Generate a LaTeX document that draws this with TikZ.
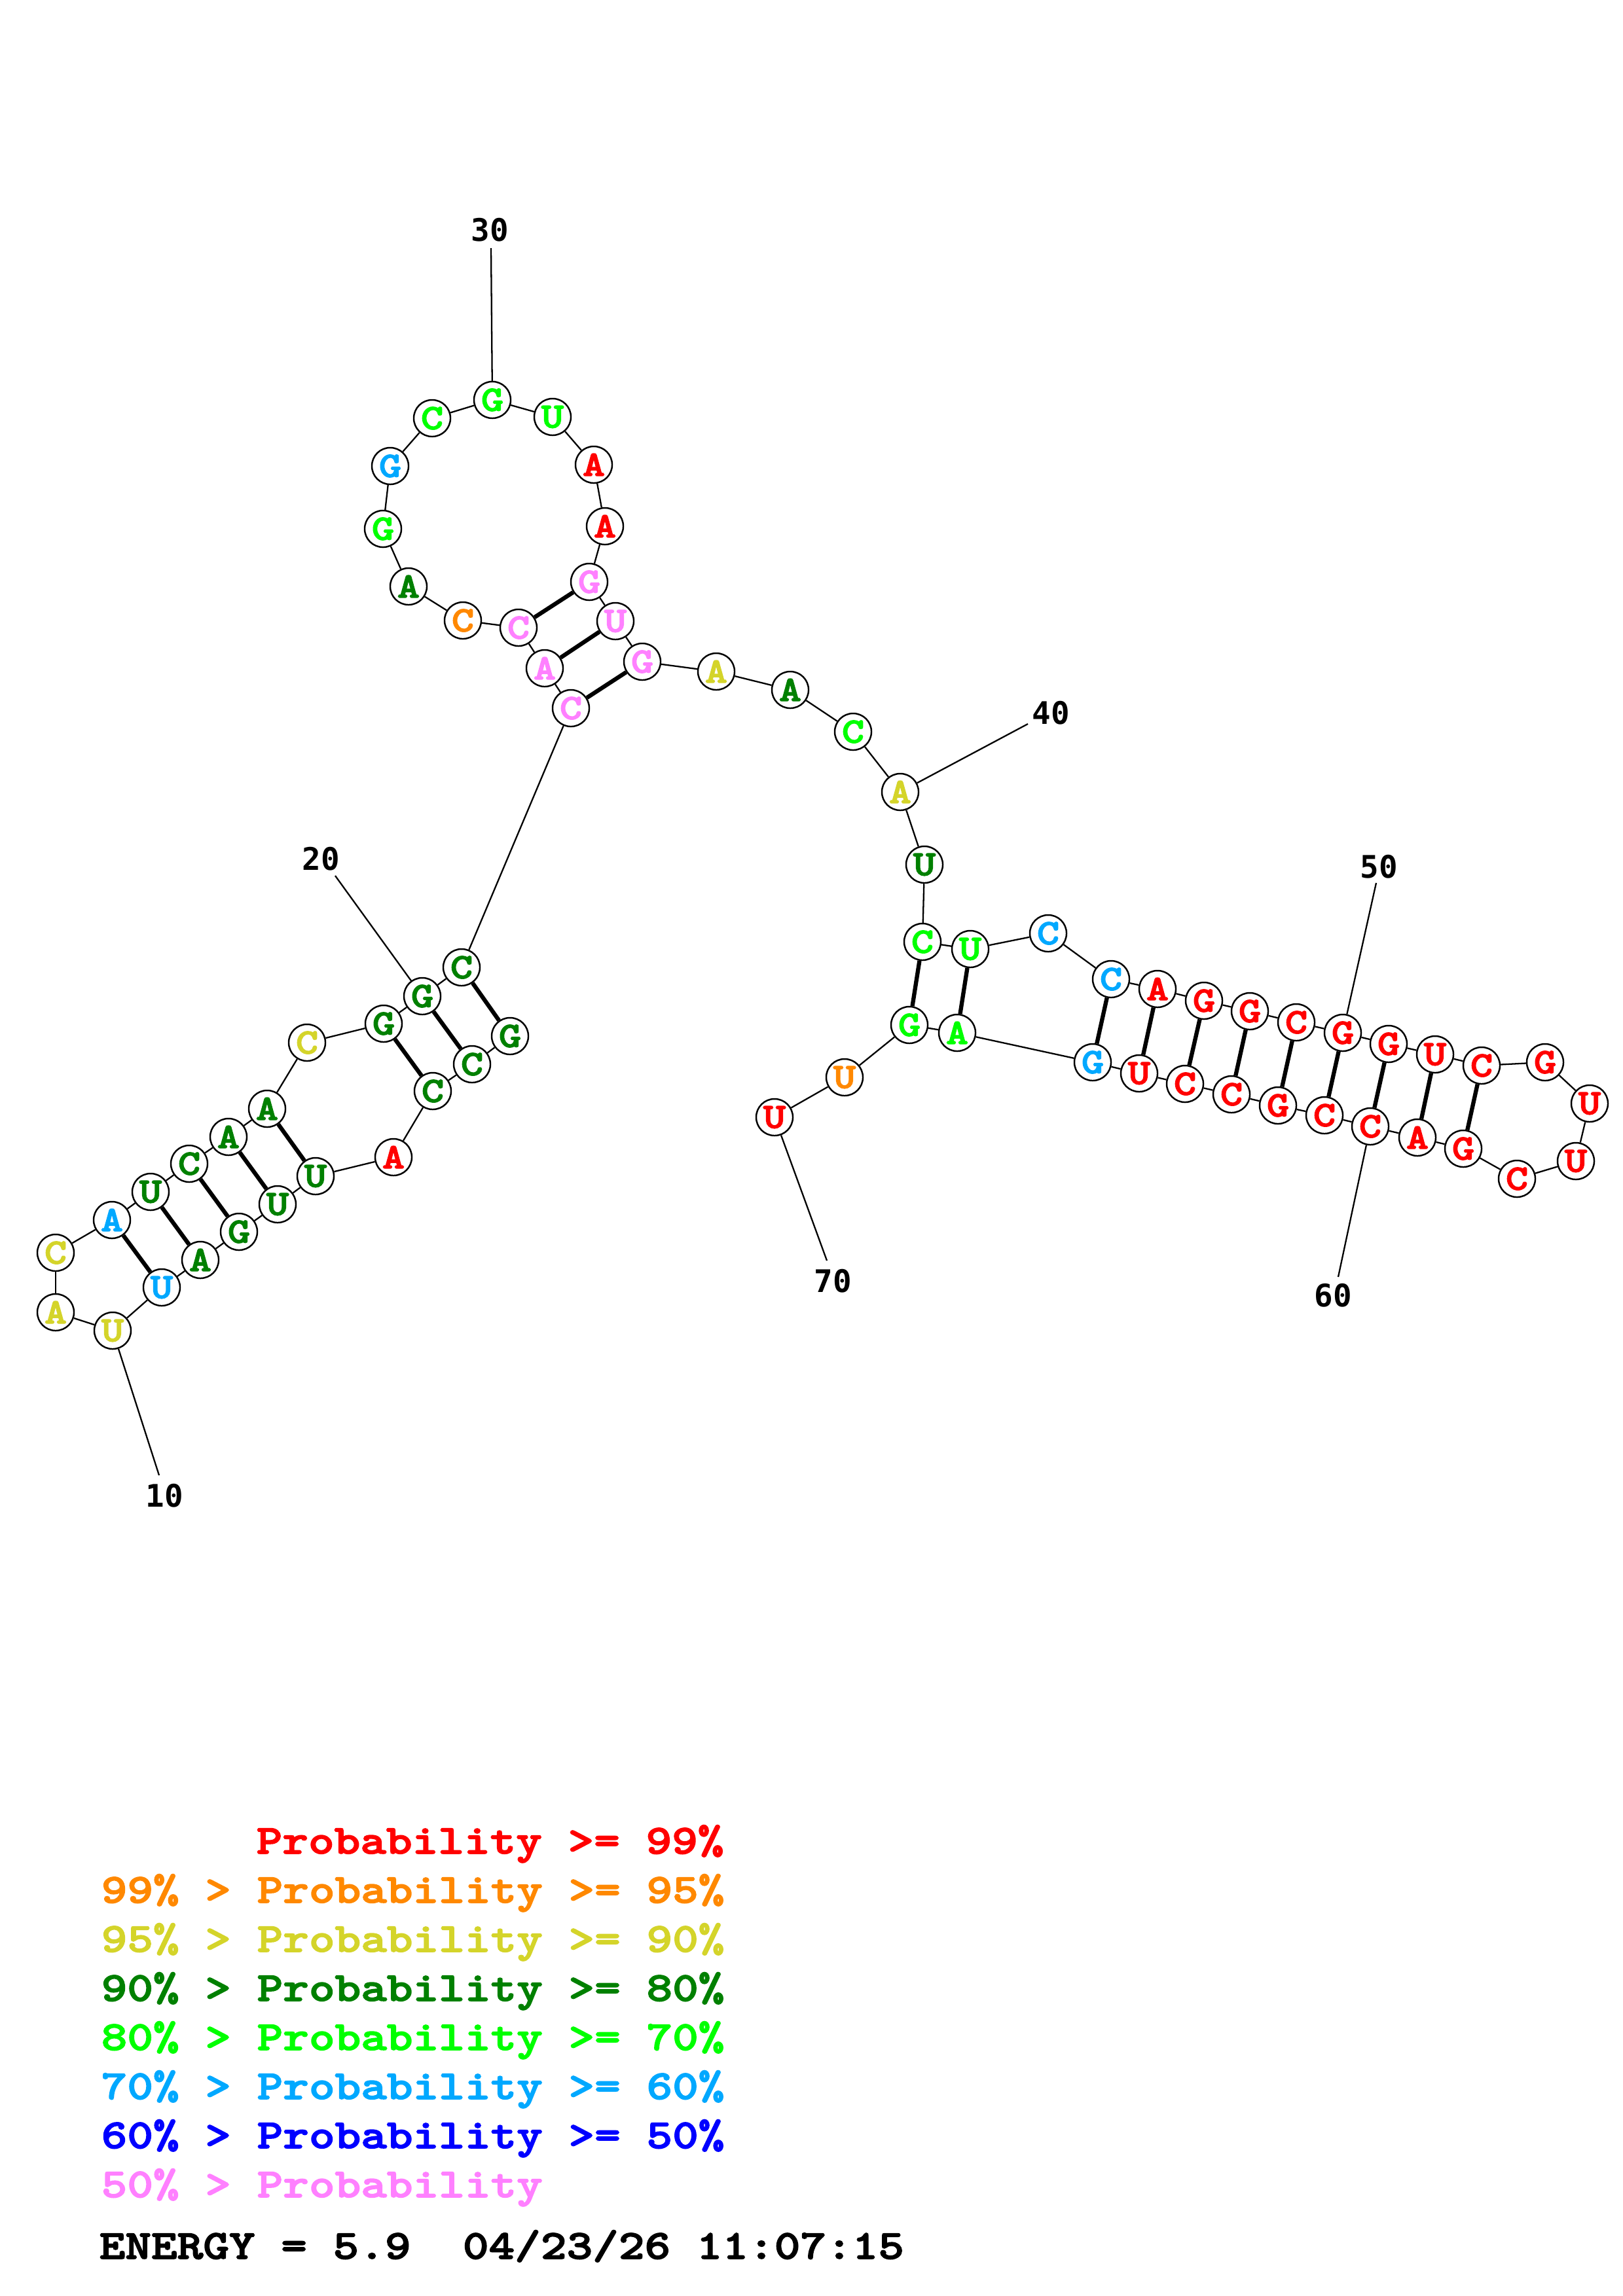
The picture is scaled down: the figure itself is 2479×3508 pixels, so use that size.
\documentclass[tikz,border=0pt]{standalone}
\usepackage{fontspec}
\newfontfamily\nucfont[FakeStretch=1.2,FakeBold=2.5]{lmmonolt10-bold.otf}
\newfontfamily\labfont{DejaVu Sans Mono}
\definecolor{cR}{RGB}{255,0,0}
\definecolor{cO}{RGB}{255,136,0}
\definecolor{cY}{RGB}{212,212,42}
\definecolor{cDG}{RGB}{0,128,0}
\definecolor{cG}{RGB}{0,255,0}
\definecolor{cS}{RGB}{0,168,255}
\definecolor{cB}{RGB}{0,0,255}
\definecolor{cP}{RGB}{255,128,255}
\tikzset{
  nt/.style={circle, draw, line width=0.7pt, fill=white, minimum size=0.56cm, inner sep=0pt,
    font=\nucfont\fontsize{15.5}{15.5}\selectfont},
  bb/.style={line width=0.65pt},
  bp/.style={line width=1.8pt},
  num/.style={inner sep=0pt, font=\labfont\bfseries\fontsize{13.5}{13.5}\selectfont},
  leg/.style={anchor=base west, inner sep=0pt, font=\nucfont\fontsize{17.9}{17.9}\selectfont}
}
\begin{document}
\begin{tikzpicture}[x=0.01cm,y=-0.01cm]
\useasboundingbox (0,0) rectangle (2479,3508);
% nucleotides
\foreach \i/\x/\y/\l/\c in {
1/779/1583/G/cDG, 2/721/1626/C/cDG, 3/661/1667/C/cDG, 4/601/1768/A/cR,
5/482/1797/U/cDG, 6/424/1840/U/cDG, 7/365/1882/G/cDG, 8/306/1925/A/cDG,
9/247/1967/U/cS, 10/172/2033/U/cY, 11/85/2005/A/cY, 12/85/1914/C/cY,
13/171/1864/A/cS, 14/230/1821/U/cDG, 15/289/1778/C/cDG, 16/349/1737/A/cDG,
17/408/1694/A/cDG, 18/469/1593/C/cY, 19/586/1564/G/cDG, 20/645/1522/G/cDG,
21/705/1478/C/cDG, 22/872/1082/C/cP, 23/832/1021/A/cP, 24/792/959/C/cP,
25/707/948/C/cO, 26/624/896/A/cDG, 27/585/808/G/cG, 28/596/712/G/cS,
29/660/639/C/cG, 30/752/611/G/cG, 31/844/637/U/cG, 32/907/710/A/cR,
33/924/804/A/cR, 34/900/889/G/cP, 35/940/949/U/cP, 36/981/1011/G/cP,
37/1094/1026/A/cY, 38/1207/1054/A/cDG, 39/1303/1118/C/cG, 40/1375/1210/A/cY,
41/1412/1321/U/cDG, 42/1409/1439/C/cG, 43/1482/1450/U/cG, 44/1601/1426/C/cS,
45/1697/1496/C/cS, 46/1768/1511/A/cR, 47/1839/1529/G/cR, 48/1909/1545/G/cR,
49/1980/1562/C/cR, 50/2051/1578/G/cR, 51/2121/1595/G/cR, 52/2192/1611/U/cR,
53/2263/1628/C/cR, 54/2360/1623/G/cR, 55/2428/1686/U/cR, 56/2407/1774/U/cR,
57/2317/1801/C/cR, 58/2235/1755/G/cR, 59/2165/1738/A/cR, 60/2093/1721/C/cR,
61/2023/1704/C/cR, 62/1952/1689/G/cR, 63/1881/1672/C/cR, 64/1810/1656/C/cR,
65/1740/1640/U/cR, 66/1669/1623/G/cS, 67/1462/1578/A/cG, 68/1389/1566/G/cG,
69/1290/1646/U/cO, 70/1183/1707/U/cR}
  \node[nt, text=\c] (n\i) at (\x,\y) {\l};
% backbone
\foreach \i [evaluate=\i as \j using int(\i+1)] in {1,...,69}
  \draw[bb] (n\i) -- (n\j);
% base pairs
\foreach \a/\b in {1/21,2/20,3/19,5/17,6/16,7/15,8/14,9/13,22/36,23/35,24/34,
  42/68,43/67,45/66,46/65,47/64,48/63,49/62,50/61,51/60,52/59,53/58}
  \draw[bp] (n\a) -- (n\b);
% position labels
\coordinate (e10) at (243,2254);
\coordinate (e20) at (512,1338);
\coordinate (e30) at (750,379);
\coordinate (e40) at (1570,1106);
\coordinate (e50) at (2102,1349);
\coordinate (e60) at (2044,1951);
\coordinate (e70) at (1263,1926);
\foreach \k in {10,20,30,40,50,60,70}
  \draw[bb] (n\k) -- (e\k);
\node[num] (l10) at (251,2285) {10};
\node[num] (l20) at (490,1312) {20};
\node[num] (l30) at (748,351) {30};
\node[num] (l40) at (1605,1089) {40};
\node[num] (l50) at (2106,1324) {50};
\node[num] (l60) at (2036,1979) {60};
\node[num] (l70) at (1272,1957) {70};
% legend
\node[leg, text=cR] (g1) at (391,2832) {Probability >= 99\%};
\node[leg, text=cO] (g2) at (154,2907) {99\% > Probability >= 95\%};
\node[leg, text=cY] (g3) at (154,2982) {95\% > Probability >= 90\%};
\node[leg, text=cDG] (g4) at (154,3057) {90\% > Probability >= 80\%};
\node[leg, text=cG] (g5) at (154,3132) {80\% > Probability >= 70\%};
\node[leg, text=cS] (g6) at (154,3207) {70\% > Probability >= 60\%};
\node[leg, text=cB] (g7) at (154,3282) {60\% > Probability >= 50\%};
\node[leg, text=cP] (g8) at (154,3357) {50\% > Probability};
\node[leg, text=black] (en) at (151,3451) {ENERGY = 5.9\ \ 04/23/26 11:07:15};
\end{tikzpicture}
\end{document}
